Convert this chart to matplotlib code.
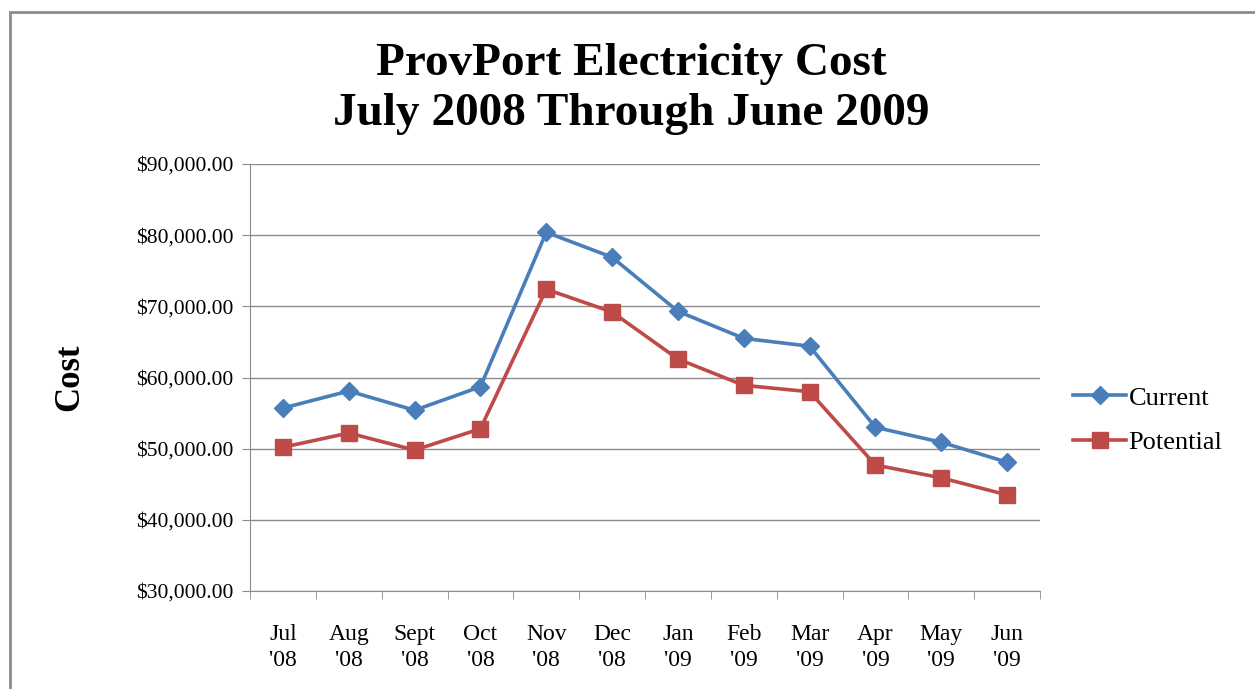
import matplotlib.pyplot as plt
import numpy as np
from matplotlib.patches import Rectangle
from matplotlib.ticker import FuncFormatter, FixedLocator

months = ["Jul\n'08", "Aug\n'08", "Sept\n'08", "Oct\n'08", "Nov\n'08", "Dec\n'08",
          "Jan\n'09", "Feb\n'09", "Mar\n'09", "Apr\n'09", "May\n'09", "Jun\n'09"]
current = [55700, 58100, 55400, 58700, 80400, 76900,
           69300, 65500, 64400, 53000, 50900, 48100]
potential = [50200, 52200, 49800, 52800, 72400, 69200,
             62600, 58900, 58000, 47700, 45900, 43500]
y_ticks = [30000, 40000, 50000, 60000, 70000, 80000, 90000]

plt.rcParams["font.family"] = ["Liberation Serif", "DejaVu Serif"]

fig = plt.figure(figsize=(12.55, 6.89), dpi=100)
ax = fig.add_axes([250 / 1255, 1 - 591 / 689, 790 / 1255, 427 / 689])

# outer frame like the pasted Excel chart
fig.patches.append(Rectangle((10 / 1255, -0.02), 1.1, 1 - 12 / 689 + 0.02,
                             transform=fig.transFigure, fill=False,
                             edgecolor="#8c8c8c", linewidth=2))

x = np.arange(len(months))
ax.plot(x, current, color="#4a7ebb", linewidth=2.6, marker="D",
        markersize=9, label="Current")
ax.plot(x, potential, color="#be4b48", linewidth=2.6, marker="s",
        markersize=12, label="Potential")

ax.set_xlim(-0.5, len(months) - 0.5)
ax.set_ylim(y_ticks[0], y_ticks[-1])
ax.set_yticks(y_ticks)
ax.yaxis.set_major_formatter(FuncFormatter(lambda v, _: f"${v:,.2f}"))
ax.grid(axis="y", color="#8c8c8c", linewidth=1)
ax.set_axisbelow(True)

ax.set_xticks(x)
ax.set_xticklabels(months, fontsize=17, linespacing=1.3)
ax.xaxis.set_minor_locator(FixedLocator(np.arange(-0.5, len(months), 1)))
ax.tick_params(axis="x", which="major", length=0, pad=24)
ax.tick_params(axis="x", which="minor", length=6, color="#8c8c8c")
ax.tick_params(axis="y", length=6, color="#8c8c8c", labelsize=15.5, pad=6)

for side in ("top", "right"):
    ax.spines[side].set_visible(False)
for side in ("left", "bottom"):
    ax.spines[side].set_color("#8c8c8c")

ax.set_ylabel("Cost", fontsize=25, fontweight="bold", labelpad=36)
fig.suptitle("ProvPort Electricity Cost\nJuly 2008 Through June 2009",
             x=631 / 1255, y=1 - 43 / 689,
             fontsize=34, fontweight="bold", linespacing=1.25)

ax.legend(loc="center left", bbox_to_anchor=(1.012, 0.40), frameon=False,
          fontsize=19, handlelength=2.0, handletextpad=0.1, labelspacing=0.8)

fig.savefig("out.png", dpi=100)
